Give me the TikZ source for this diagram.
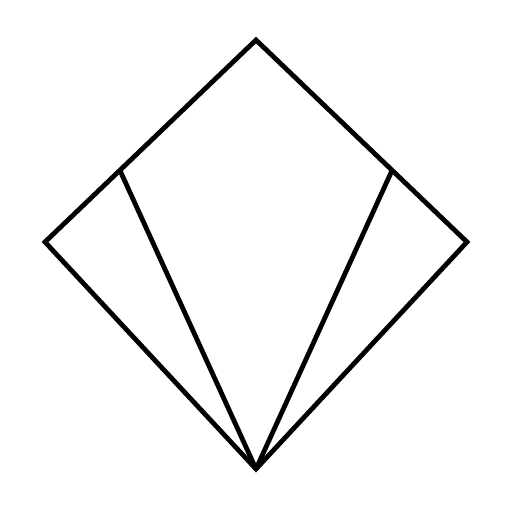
\documentclass[tikz,border=0pt]{standalone}
\usetikzlibrary{calc}

\begin{document}
\begin{tikzpicture}[
		x=1pt,y=-1pt,
		edgeline/.style={draw,line width=4.8pt,line join=miter}
		]
		\useasboundingbox (0,0) rectangle (512,512);
		% outer kite
		\coordinate (top) at (256,40);
		\coordinate (right) at (467,242);
		\coordinate (bottom) at (256,469);
		\coordinate (left) at (45,242);
		% points on the upper edges
		\coordinate (pleft) at ($(left)!0.355!(top)$);
		\coordinate (pright) at ($(top)!0.645!(right)$);
		\path[edgeline] (top) -- (right) -- (bottom) -- (left) -- cycle;
		\path[edgeline]
		(bottom) -- (pleft)
		(bottom) -- (pright);
	\end{tikzpicture}
\end{document}
